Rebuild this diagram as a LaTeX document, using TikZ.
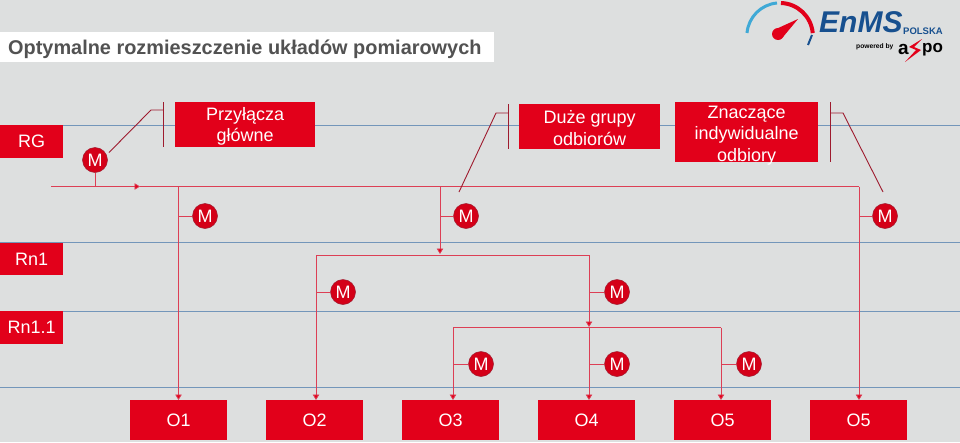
\documentclass[tikz,border=0pt]{standalone}
\usepackage{fontspec}
\setmainfont{Liberation Sans}
\usetikzlibrary{arrows.meta}
\definecolor{bg}{HTML}{DDDFDF}
\definecolor{brand}{HTML}{E2001A}
\definecolor{lane}{HTML}{7396BA}
\definecolor{wire}{HTML}{DC3F55}
\definecolor{lever}{HTML}{9E1B2E}
\definecolor{navy}{HTML}{17508F}
\definecolor{sky}{HTML}{3FA9D6}
\tikzset{
  x=1pt,y=-1pt,
  lane/.style={draw=lane,line width=1pt},
  block/.style={fill=brand,text=white,inner sep=0pt,align=center,font=\fontsize{18}{21.5}\selectfont},
  blocktext/.style={text=white,inner sep=0pt,align=center,font=\fontsize{18}{21.5}\selectfont},
  meter/.style={circle,fill=brand!94!black,draw=lever,line width=0.5pt,minimum size=25pt,inner sep=0pt,text=white,font=\fontsize{18}{18}\selectfont},
  wire/.style={draw=wire,line width=0.8pt},
  flow/.style={wire,-{Triangle[length=5.5pt,width=6.5pt,fill=brand]}},
  lever/.style={draw=lever,line width=0.9pt},
}
\begin{document}
\begin{tikzpicture}
\useasboundingbox (0,0) rectangle (960,442);
\fill[bg] (0,0) rectangle (960,442);
% lanes
\foreach \y in {125,242,311.5,387.5} \draw[lane] (0,\y) -- (960,\y);
% title
\node[fill=white,anchor=north west,minimum width=494pt,minimum height=30pt,inner sep=0pt] (titlebox) at (0,32) {};
\node[anchor=west,inner sep=0pt,font=\bfseries\fontsize{19.9}{22}\selectfont,text=black!68] (title) at (8,49) {Optymalne rozmieszczenie układów pomiarowych};
% logo
\draw[sky,line width=3pt] (747,33) arc[start angle=-175,end angle=-95,radius=33];
\draw[brand,line width=4pt] (781,3) arc[start angle=-88,end angle=-5,radius=33];
\draw[navy,line width=2pt] (812,35) -- (808,45);
\fill[brand] (776,29) -- (798,19) -- (783,37) -- cycle;
\fill[brand] (778,34) circle[radius=6];
\node[anchor=west,inner sep=0pt,text=navy,font=\bfseries\itshape\fontsize{30}{30}\selectfont] (enms) at (819,22) {EnMS};
\node[anchor=west,inner sep=0pt,text=navy,font=\bfseries\fontsize{9.5}{10}\selectfont] (polska) at (903,31) {POLSKA};
\node[anchor=west,inner sep=0pt,text=black,font=\bfseries\fontsize{6.7}{7}\selectfont] (powered) at (856,47) {powered by};
\node[anchor=west,inner sep=0pt,text=black,font=\bfseries\fontsize{19}{19}\selectfont] (aspo1) at (898,49) {a};
\node[anchor=west,inner sep=0pt,text=black,font=\bfseries\fontsize{17}{17}\selectfont] (aspo2) at (922,50) {po};
\fill[brand] (922,39) -- (909,47) -- (916,50) -- (905,62) -- (921,50) -- (914,47) -- cycle;
% lane labels
\node[block,minimum width=63pt,minimum height=33pt,anchor=north west] (rg) at (0,125) {RG};
\node[block,minimum width=63pt,minimum height=32pt,anchor=north west] (rn1) at (0,243) {Rn1};
\node[block,minimum width=63pt,minimum height=33pt,anchor=north west] (rn11) at (0,311) {Rn1.1};
% top boxes
\node[block,minimum width=140pt,minimum height=45pt,anchor=north west] (przy) at (175,102) {};
\node[blocktext] (przyT) at ([yshift=-1.5pt]przy.center) {Przyłącza\\główne};
\node[block,minimum width=141pt,minimum height=45pt,anchor=north west] (duze) at (519,104) {};
\node[blocktext] (duzeT) at ([yshift=-1.5pt]duze.center) {Duże grupy\\odbiorów};
\node[block,minimum width=143pt,minimum height=60pt,anchor=north west] (znacz) at (675,102) {};
\node[blocktext] (znaczT) at ([yshift=-3pt]znacz.center) {Znaczące\\indywidualne\\odbiory};
% bottom boxes
\node[block,minimum width=97pt,minimum height=40pt,anchor=north west] (o1) at (130,400) {O1};
\node[block,minimum width=97pt,minimum height=40pt,anchor=north west] (o2) at (266,400) {O2};
\node[block,minimum width=97pt,minimum height=40pt,anchor=north west] (o3) at (402,400) {O3};
\node[block,minimum width=97pt,minimum height=40pt,anchor=north west] (o4) at (538,400) {O4};
\node[block,minimum width=97pt,minimum height=40pt,anchor=north west] (o5) at (674,400) {O5};
\node[block,minimum width=97pt,minimum height=40pt,anchor=north west] (o6) at (810,400) {O5};
% meters
\node[meter] (m0) at (95,160) {M};
\node[meter] (m1) at (205,216) {M};
\node[meter] (m2) at (466,216) {M};
\node[meter] (m3) at (885,216) {M};
\node[meter] (m4) at (343,292) {M};
\node[meter] (m5) at (617,292) {M};
\node[meter] (m6) at (481,364) {M};
\node[meter] (m7) at (617,364) {M};
\node[meter] (m8) at (749,364) {M};
% junctions
\coordinate (start) at (51,186.5);
\coordinate (tap0) at (95,186.5);
\coordinate (mid) at (140,186.5);
\coordinate (j1) at (178.5,186.5);
\coordinate (j2) at (440,186.5);
\coordinate (j3) at (859,186.5);
\coordinate (b2) at (440,254);
\coordinate (l2) at (316,255);
\coordinate (r2) at (589,255);
\coordinate (b3) at (589,327);
\coordinate (l3) at (453,327.5);
\coordinate (r3) at (721,327.5);
% wires
\draw[flow] (start) -- (mid);
\draw[wire] (mid) -- (j3);
\draw[wire] (tap0) -- (m0);
\draw[flow] (j1) -- (j1 |- o1.north);
\draw[flow] (j2) -- (b2);
\draw[flow] (j3) -- (j3 |- o6.north);
\draw[wire] (l2) -- (r2);
\draw[flow] (l2) -- (l2 |- o2.north);
\draw[flow] (r2) -- (b3);
\draw[flow] (b3) -- (b3 |- o4.north);
\draw[wire] (l3) -- (r3);
\draw[flow] (l3) -- (l3 |- o3.north);
\draw[flow] (r3) -- (r3 |- o5.north);
% stubs
\draw[wire] (j1 |- m1) -- (m1);
\draw[wire] (j2 |- m2) -- (m2);
\draw[wire] (j3 |- m3) -- (m3);
\draw[wire] (l2 |- m4) -- (m4);
\draw[wire] (r2 |- m5) -- (m5);
\draw[wire] (l3 |- m6) -- (m6);
\draw[wire] (r2 |- m7) -- (m7);
\draw[wire] (r3 |- m8) -- (m8);
% levers
\coordinate (b0t) at (163,102); \coordinate (b0b) at (163,147);
\coordinate (b1t) at (508,104); \coordinate (b1b) at (508,149);
\coordinate (b2t) at (830,102); \coordinate (b2b) at (830,162);
\draw[lever] (b0t) -- (b0b);
\draw[lever] (b1t) -- (b1b);
\draw[lever] (b2t) -- (b2b);
\coordinate (e0) at (109,152.5);
\coordinate (e1) at (459,192);
\coordinate (e2) at (883,192);
\draw[lever] (e0) -- (151,110) -- (163,110);
\draw[lever] (e1) -- (496,113) -- (508,113);
\draw[lever] (e2) -- (843,113) -- (830,113);
\end{tikzpicture}
\end{document}
